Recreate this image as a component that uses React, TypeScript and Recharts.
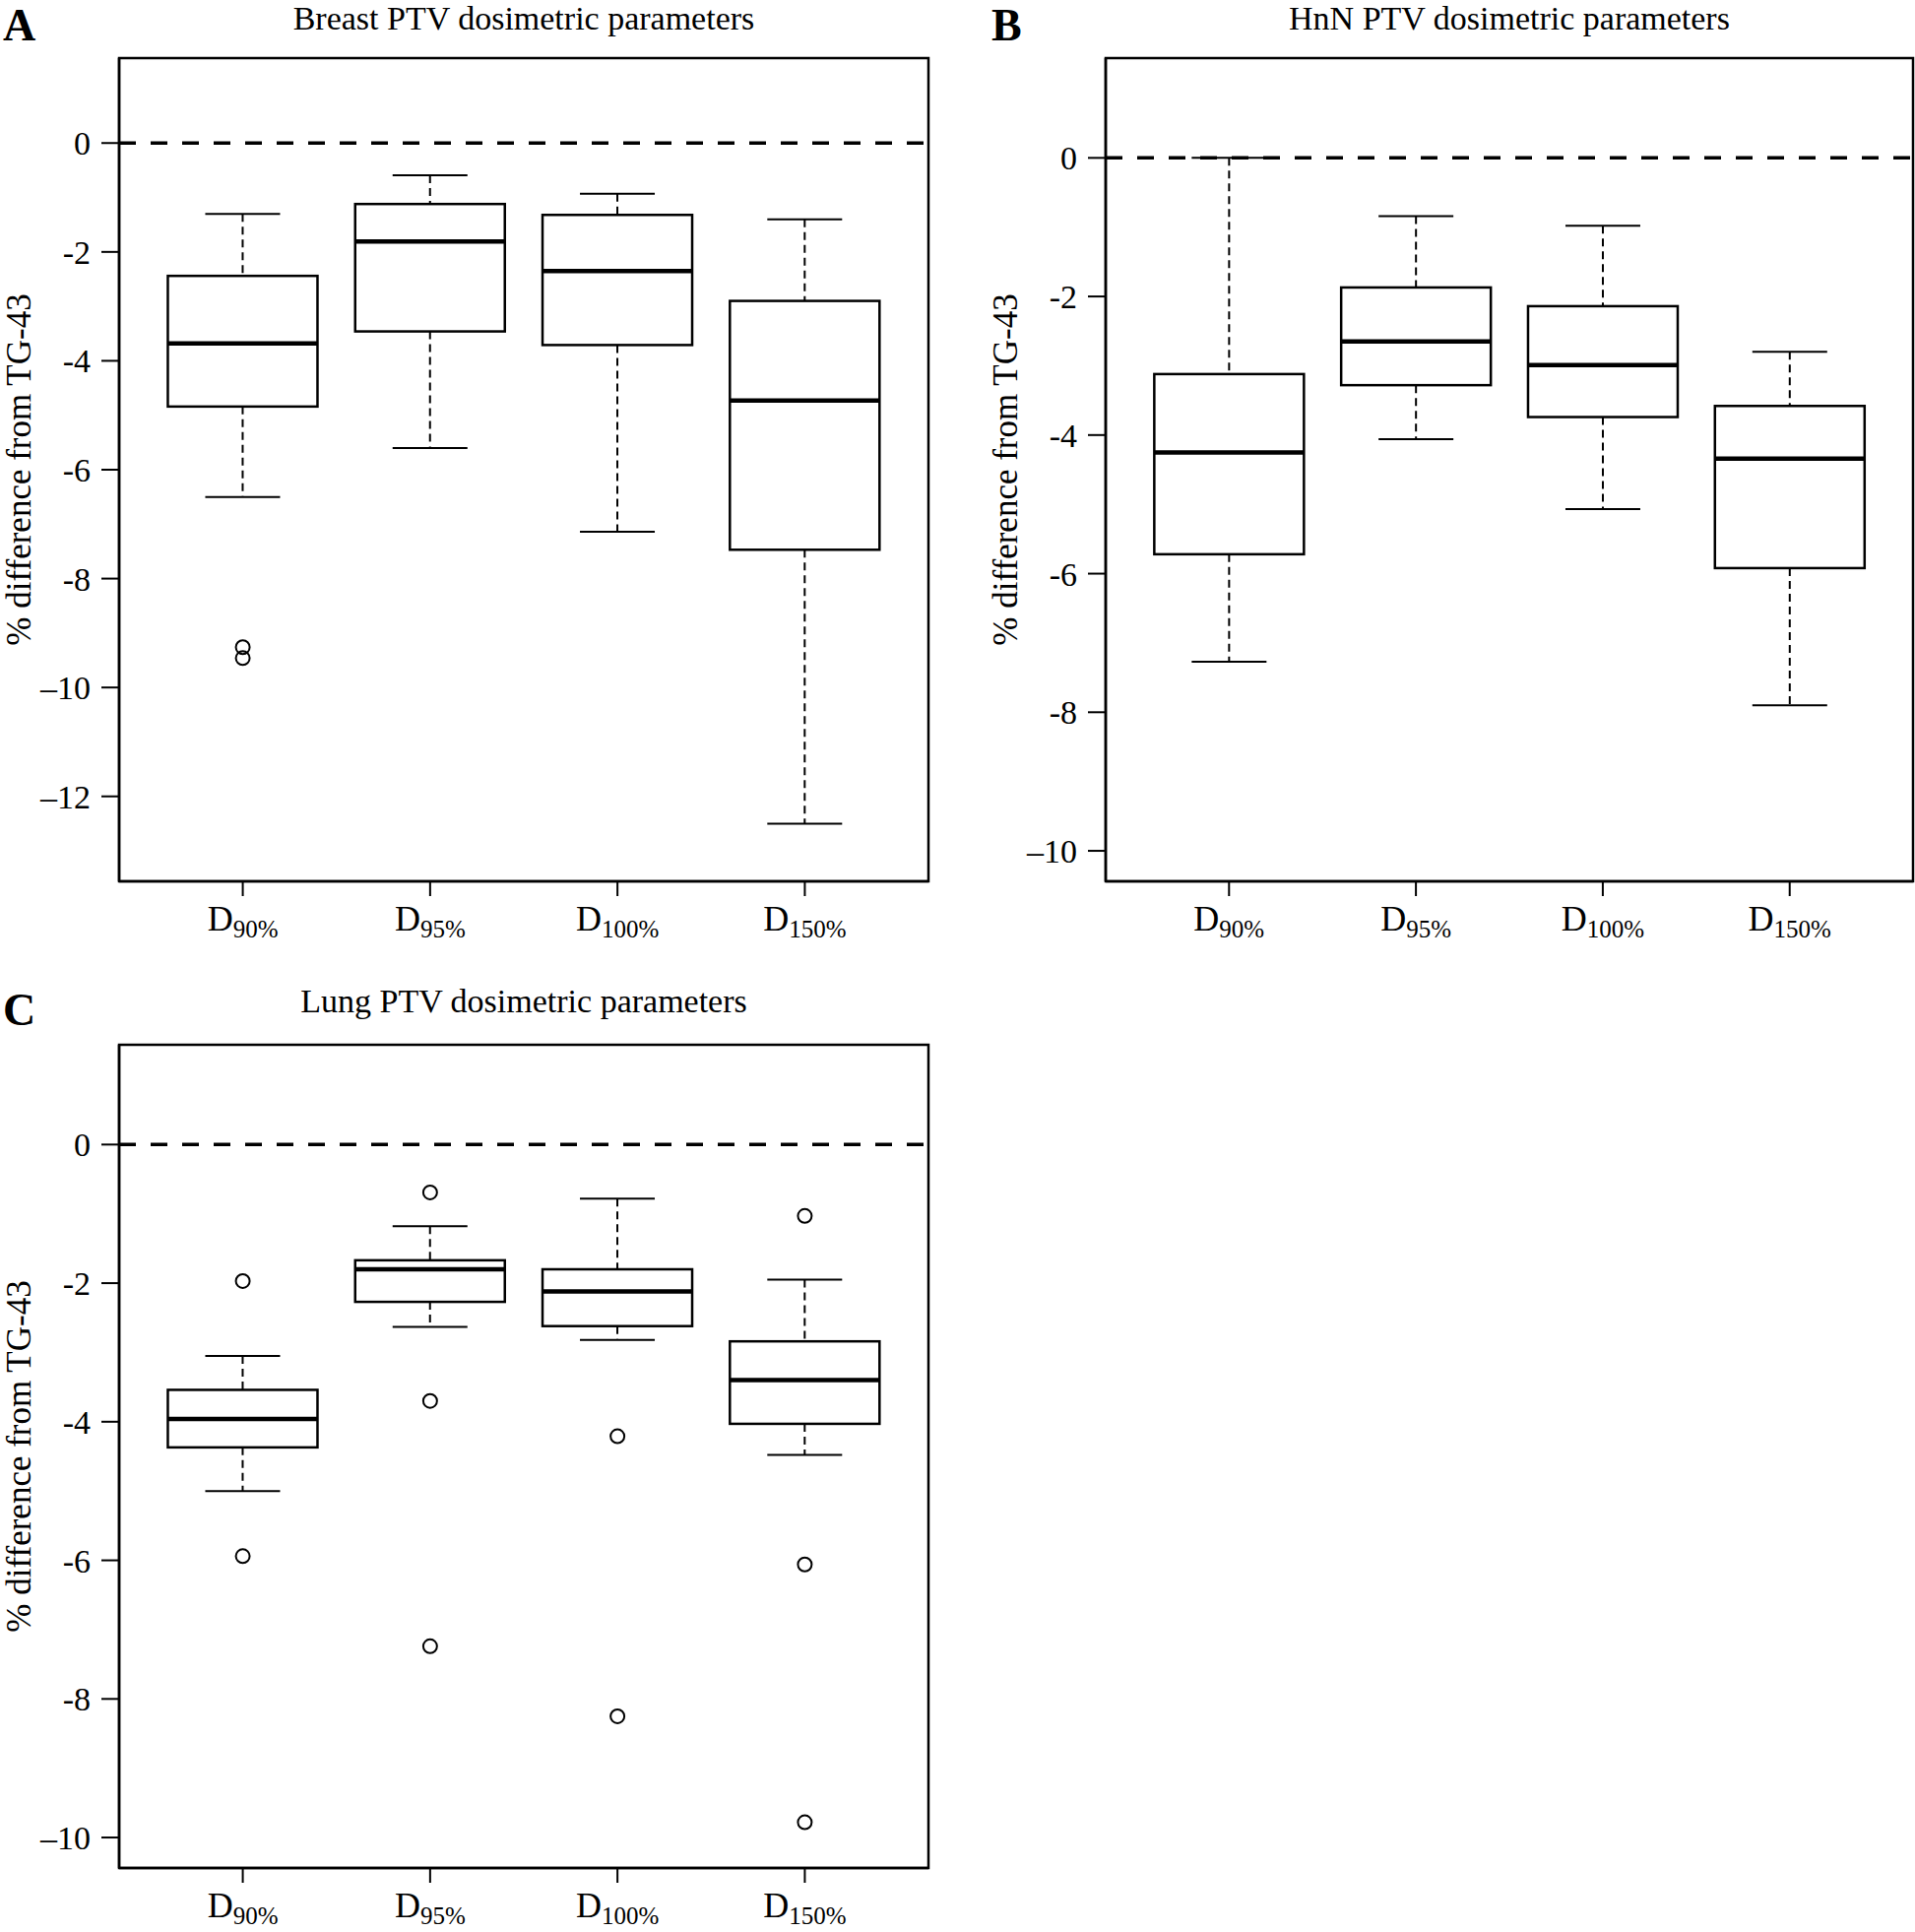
import React from "react";
import { ComposedChart, Bar, Scatter, XAxis, YAxis, ReferenceLine } from "recharts";

// box stats per category: [lower whisker, Q1, median, Q3, upper whisker]
const categories = ["90%", "95%", "100%", "150%"];

const breastBoxes = [
  [-6.5, -4.84, -3.68, -2.44, -1.3],
  [-5.6, -3.46, -1.81, -1.12, -0.59],
  [-7.14, -3.71, -2.35, -1.32, -0.93],
  [-12.5, -7.47, -4.73, -2.9, -1.4],
];
const breastOutliers = [[-9.26, -9.46], [], [], []];

const hnnBoxes = [
  [-7.27, -5.72, -4.25, -3.12, 0.0],
  [-4.06, -3.28, -2.65, -1.87, -0.84],
  [-5.07, -3.74, -2.99, -2.14, -0.98],
  [-7.9, -5.92, -4.34, -3.58, -2.8],
];
const hnnOutliers = [[], [], [], []];

const lungBoxes = [
  [-5.0, -4.37, -3.96, -3.54, -3.05],
  [-2.63, -2.27, -1.8, -1.67, -1.18],
  [-2.82, -2.62, -2.12, -1.8, -0.78],
  [-4.48, -4.03, -3.4, -2.84, -1.95],
];
const lungOutliers = [
  [-1.97, -5.94],
  [-0.69, -3.7, -7.24],
  [-4.21, -8.25],
  [-1.03, -6.06, -9.78],
];

const breastTicks = [0, -2, -4, -6, -8, -10, -12];
const tenTicks = [0, -2, -4, -6, -8, -10];

const FONT = "'Liberation Serif', 'Times New Roman', serif";

const buildRows = (boxes: number[][], outliers: number[][]) =>
  categories.map((c, i) => {
    const [lo, q1, med, q3, hi] = boxes[i];
    const o = outliers[i];
    return {
      cat: c,
      range: [lo, hi],
      lo,
      q1,
      med,
      q3,
      hi,
      o1: o[0] ?? null,
      o2: o[1] ?? null,
      o3: o[2] ?? null,
    };
  });

// R style: extend range by 4% on each side
const extend = (lo: number, hi: number) => {
  const d = (hi - lo) * 0.04;
  return [lo - d, hi + d];
};

const BoxShape = (props: any) => {
  const { x, y, width, height, payload } = props;
  if (x == null || y == null || !payload) return null;
  const top = Math.min(y, y + height);
  const h = Math.abs(height);
  const { lo, q1, med, q3, hi } = payload;
  const py = (v: number) => (hi === lo ? top : top + ((hi - v) / (hi - lo)) * h);
  const cx = x + width / 2;
  const capL = cx - width / 4;
  const capR = cx + width / 4;
  return (
    <g>
      <line x1={cx} x2={cx} y1={py(hi)} y2={py(q3)} stroke="#000" strokeWidth={2} strokeDasharray="8 5" />
      <line x1={cx} x2={cx} y1={py(q1)} y2={py(lo)} stroke="#000" strokeWidth={2} strokeDasharray="8 5" />
      <line x1={capL} x2={capR} y1={py(hi)} y2={py(hi)} stroke="#000" strokeWidth={2} />
      <line x1={capL} x2={capR} y1={py(lo)} y2={py(lo)} stroke="#000" strokeWidth={2} />
      <rect x={x} y={py(q3)} width={width} height={py(q1) - py(q3)} fill="#fff" stroke="#000" strokeWidth={2.5} />
      <line x1={x} x2={x + width} y1={py(med)} y2={py(med)} stroke="#000" strokeWidth={4.5} />
    </g>
  );
};

const outlierShape = (key: string) => (props: any) => {
  const { cx, cy, payload } = props;
  if (!payload || payload[key] == null || cy == null || isNaN(cy)) return <g />;
  return <circle cx={cx} cy={cy} r={7} fill="none" stroke="#000" strokeWidth={2} />;
};

const XTick = (props: any) => {
  const { x, y, payload } = props;
  return (
    <text x={x} y={y + 31} textAnchor="middle" fontFamily={FONT} fontSize={36} fill="#000">
      <tspan>D</tspan>
      <tspan dy={7} fontSize={25}>
        {payload.value}
      </tspan>
    </text>
  );
};

const fmtY = (v: number) => (v <= -10 ? "\u2013" + Math.abs(v) : String(v));

type PanelProps = {
  left: number;
  top: number;
  width: number;
  height: number;
  margin: { top: number; right: number; bottom: number; left: number };
  yWidth: number;
  xHeight: number;
  rows: any[];
  domain: number[];
  ticks: number[];
};

const Panel = ({ left, top, width, height, margin, yWidth, xHeight, rows, domain, ticks }: PanelProps) => {
  const plotL = margin.left + yWidth;
  const plotT = margin.top;
  const plotW = width - margin.right - plotL;
  const plotH = height - margin.bottom - xHeight - plotT;
  const pad = plotW * (0.16 / 4.32);
  return (
    <div style={{ position: "absolute", left, top, width, height }}>
      <ComposedChart width={width} height={height} data={rows} margin={margin} barCategoryGap="10%">
        <XAxis
          dataKey="cat"
          type="category"
          padding={{ left: pad, right: pad }}
          tickSize={15}
          tickMargin={4}
          tick={<XTick />}
          height={xHeight}
          interval={0}
          axisLine={{ stroke: "#000", strokeWidth: 2.5 }}
          tickLine={{ stroke: "#000", strokeWidth: 2 }}
        />
        <YAxis
          type="number"
          domain={domain}
          ticks={ticks}
          allowDataOverflow
          width={yWidth}
          tickSize={18}
          tickMargin={11}
          tickFormatter={fmtY}
          interval={0}
          tick={{ fontFamily: FONT, fontSize: 34, fill: "#000" }}
          axisLine={{ stroke: "#000", strokeWidth: 2.5 }}
          tickLine={{ stroke: "#000", strokeWidth: 2 }}
        />
        <ReferenceLine y={0} stroke="#000" strokeWidth={3.5} strokeDasharray="17 15" />
        <Bar dataKey="range" shape={<BoxShape />} isAnimationActive={false} />
        <Scatter dataKey="o1" shape={outlierShape("o1")} isAnimationActive={false} />
        <Scatter dataKey="o2" shape={outlierShape("o2")} isAnimationActive={false} />
        <Scatter dataKey="o3" shape={outlierShape("o3")} isAnimationActive={false} />
      </ComposedChart>
      {/* plot frame, like R's box() */}
      <svg width={width} height={height} style={{ position: "absolute", left: 0, top: 0, pointerEvents: "none" }}>
        <rect x={plotL} y={plotT} width={plotW} height={plotH} fill="none" stroke="#000" strokeWidth={2.5} />
      </svg>
    </div>
  );
};

const txt = { fontFamily: FONT, fill: "#000" } as const;

export default function App() {
  const breastRows = buildRows(breastBoxes, breastOutliers);
  const hnnRows = buildRows(hnnBoxes, hnnOutliers);
  const lungRows = buildRows(lungBoxes, lungOutliers);
  const breastDomain = extend(-13, 1);
  const tenDomain = extend(-10, 1);

  return (
    <div style={{ position: "absolute", left: 0, top: 0, width: 1945, height: 1962, background: "#fff", overflow: "hidden", fontFamily: FONT }}>
      <Panel
        left={0}
        top={0}
        width={960}
        height={980}
        margin={{ top: 59, right: 17, bottom: 5, left: 0 }}
        yWidth={121}
        xHeight={80}
        rows={breastRows}
        domain={breastDomain}
        ticks={breastTicks}
      />
      <Panel
        left={1000}
        top={0}
        width={945}
        height={980}
        margin={{ top: 59, right: 2, bottom: 5, left: 0 }}
        yWidth={123}
        xHeight={80}
        rows={hnnRows}
        domain={tenDomain}
        ticks={tenTicks}
      />
      <Panel
        left={0}
        top={981}
        width={960}
        height={981}
        margin={{ top: 80, right: 17, bottom: 5, left: 0 }}
        yWidth={121}
        xHeight={60}
        rows={lungRows}
        domain={tenDomain}
        ticks={tenTicks}
      />
      <svg width={1945} height={1962} style={{ position: "absolute", left: 0, top: 0, pointerEvents: "none" }}>
        <text x={3} y={41} fontSize={46} fontWeight="bold" {...txt}>A</text>
        <text x={1007} y={41} fontSize={46} fontWeight="bold" {...txt}>B</text>
        <text x={3} y={1041} fontSize={46} fontWeight="bold" {...txt}>C</text>
        <text x={532} y={30} fontSize={34} textAnchor="middle" {...txt}>Breast PTV dosimetric parameters</text>
        <text x={1533} y={30} fontSize={34} textAnchor="middle" {...txt}>HnN PTV dosimetric parameters</text>
        <text x={532} y={1028} fontSize={34} textAnchor="middle" {...txt}>Lung PTV dosimetric parameters</text>
        <text transform="translate(31,477) rotate(-90)" fontSize={35} textAnchor="middle" {...txt}>% difference from TG-43</text>
        <text transform="translate(1033,477) rotate(-90)" fontSize={35} textAnchor="middle" {...txt}>% difference from TG-43</text>
        <text transform="translate(31,1479) rotate(-90)" fontSize={35} textAnchor="middle" {...txt}>% difference from TG-43</text>
      </svg>
    </div>
  );
}
